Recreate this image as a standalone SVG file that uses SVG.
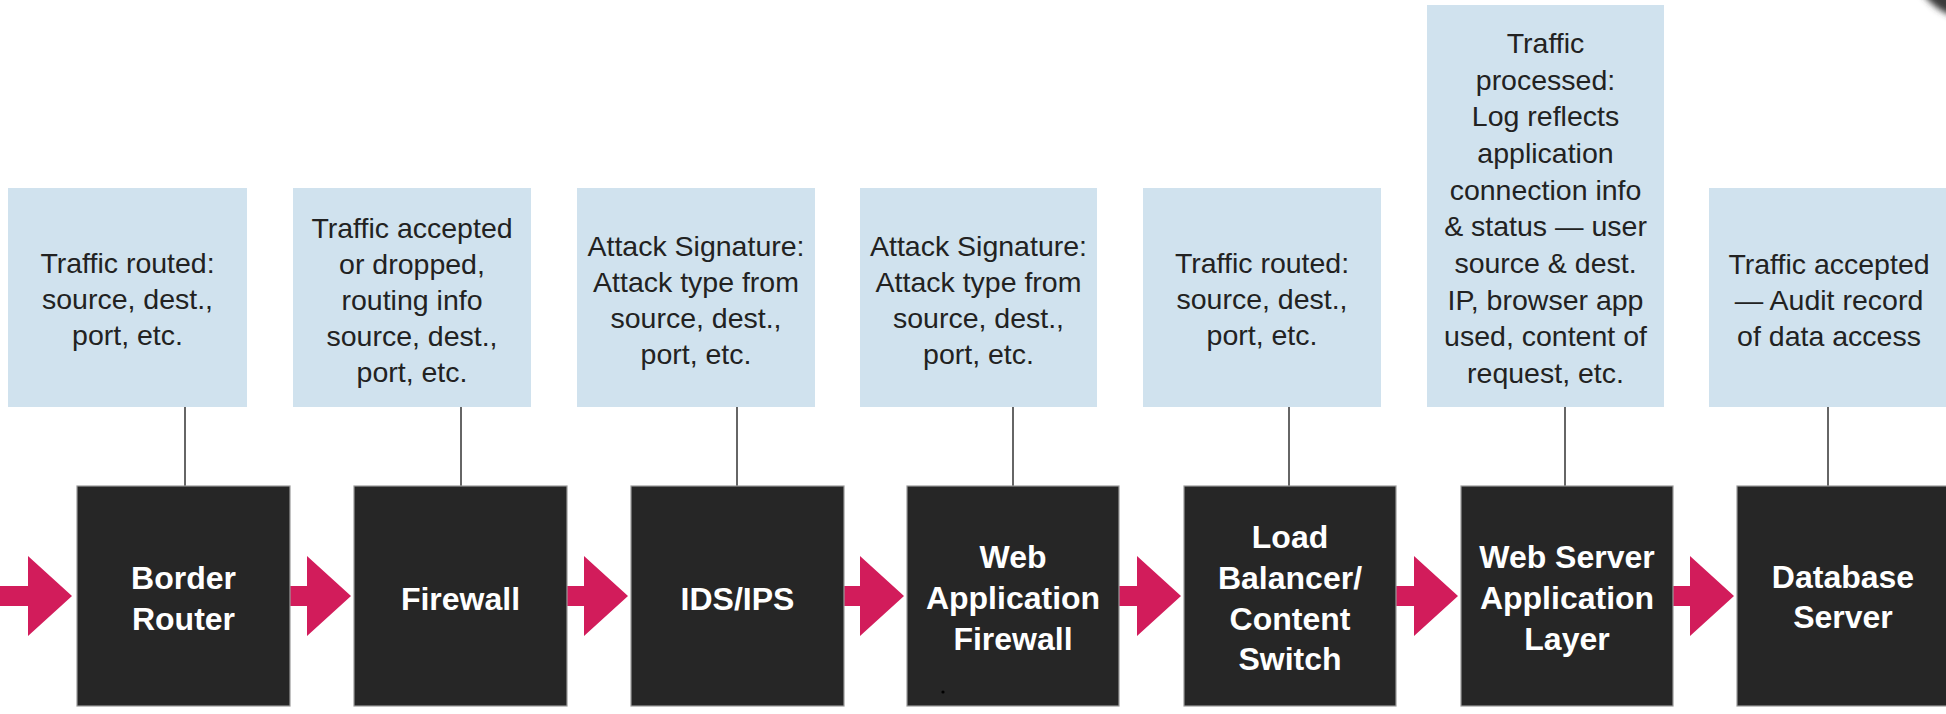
<svg xmlns="http://www.w3.org/2000/svg" width="1946" height="714" viewBox="0 0 1946 714">
<defs>
<style>
.note{fill:#d0e2ee;}
.nt{font-family:"Liberation Sans",Arial,Helvetica,sans-serif;font-size:28.5px;fill:#222;text-anchor:middle;}
.dev{fill:#262626;stroke:#9a9a9a;stroke-width:1.2;}
.dt{font-family:"Liberation Sans",Arial,Helvetica,sans-serif;font-size:32px;font-weight:bold;fill:#fff;text-anchor:middle;}
.link{stroke:#666;stroke-width:2;fill:none;}
.arrow{fill:#d21c5b;}
</style>
<filter id="blur" x="-50%" y="-50%" width="200%" height="200%"><feGaussianBlur stdDeviation="3"/></filter>
</defs>
<rect width="1946" height="714" fill="#fff"/>
<circle cx="1975" cy="-45" r="65" fill="#3a3a3a" filter="url(#blur)"/>

<g id="connectors">
<line class="link" x1="185" y1="407" x2="185" y2="486"/>
<line class="link" x1="461" y1="407" x2="461" y2="486"/>
<line class="link" x1="737" y1="407" x2="737" y2="486"/>
<line class="link" x1="1013" y1="407" x2="1013" y2="486"/>
<line class="link" x1="1289" y1="407" x2="1289" y2="486"/>
<line class="link" x1="1565" y1="407" x2="1565" y2="486"/>
<line class="link" x1="1828" y1="407" x2="1828" y2="486"/>
<path class="arrow" d="M0,586 H28 V556 L72,596 L28,636 V606 H0 Z"/>
<path class="arrow" d="M289,586 H307 V556 L351,596 L307,636 V606 H289 Z"/>
<path class="arrow" d="M566,586 H584 V556 L628,596 L584,636 V606 H566 Z"/>
<path class="arrow" d="M843,586 H860 V556 L904,596 L860,636 V606 H843 Z"/>
<path class="arrow" d="M1119,586 H1137 V556 L1181,596 L1137,636 V606 H1119 Z"/>
<path class="arrow" d="M1396,586 H1414 V556 L1458,596 L1414,636 V606 H1396 Z"/>
<path class="arrow" d="M1673,586 H1690 V556 L1734,596 L1690,636 V606 H1673 Z"/>
</g>

<g id="note1">
<rect class="note" x="8" y="188" width="239" height="219"/>
<text class="nt" x="127.5"><tspan x="127.5" y="273">Traffic routed:</tspan><tspan x="127.5" y="309">source, dest.,</tspan><tspan x="127.5" y="345">port, etc.</tspan></text>
</g>
<g id="note2">
<rect class="note" x="293" y="188" width="238" height="219"/>
<text class="nt"><tspan x="412" y="238">Traffic accepted</tspan><tspan x="412" y="274">or dropped,</tspan><tspan x="412" y="310">routing info</tspan><tspan x="412" y="346">source, dest.,</tspan><tspan x="412" y="382">port, etc.</tspan></text>
</g>
<g id="note3">
<rect class="note" x="577" y="188" width="238" height="219"/>
<text class="nt"><tspan x="696" y="256">Attack Signature:</tspan><tspan x="696" y="292">Attack type from</tspan><tspan x="696" y="328">source, dest.,</tspan><tspan x="696" y="364">port, etc.</tspan></text>
</g>
<g id="note4">
<rect class="note" x="860" y="188" width="237" height="219"/>
<text class="nt"><tspan x="978.5" y="256">Attack Signature:</tspan><tspan x="978.5" y="292">Attack type from</tspan><tspan x="978.5" y="328">source, dest.,</tspan><tspan x="978.5" y="364">port, etc.</tspan></text>
</g>
<g id="note5">
<rect class="note" x="1143" y="188" width="238" height="219"/>
<text class="nt"><tspan x="1262" y="273">Traffic routed:</tspan><tspan x="1262" y="309">source, dest.,</tspan><tspan x="1262" y="345">port, etc.</tspan></text>
</g>
<g id="note6">
<rect class="note" x="1427" y="5" width="237" height="402"/>
<text class="nt"><tspan x="1545.5" y="53">Traffic</tspan><tspan x="1545.5" y="89.7">processed:</tspan><tspan x="1545.5" y="126.3">Log reflects</tspan><tspan x="1545.5" y="163">application</tspan><tspan x="1545.5" y="199.7">connection info</tspan><tspan x="1545.5" y="236.3">&amp; status — user</tspan><tspan x="1545.5" y="273">source &amp; dest.</tspan><tspan x="1545.5" y="309.7">IP, browser app</tspan><tspan x="1545.5" y="346.3">used, content of</tspan><tspan x="1545.5" y="383">request, etc.</tspan></text>
</g>
<g id="note7">
<rect class="note" x="1709" y="188" width="240" height="219"/>
<text class="nt"><tspan x="1829" y="274">Traffic accepted</tspan><tspan x="1829" y="310">— Audit record</tspan><tspan x="1829" y="346">of data access</tspan></text>
</g>

<g id="border-router">
<rect class="dev" x="77" y="486" width="213" height="220"/>
<text class="dt"><tspan x="183.5" y="589">Border</tspan><tspan x="183.5" y="630">Router</tspan></text>
</g>
<g id="firewall">
<rect class="dev" x="354" y="486" width="213" height="220"/>
<text class="dt" x="460.5" y="610">Firewall</text>
</g>
<g id="ids-ips">
<rect class="dev" x="631" y="486" width="213" height="220"/>
<text class="dt" x="737.5" y="610">IDS/IPS</text>
</g>
<g id="waf">
<rect class="dev" x="907" y="486" width="212" height="220"/>
<text class="dt"><tspan x="1013" y="568">Web</tspan><tspan x="1013" y="609">Application</tspan><tspan x="1013" y="650">Firewall</tspan></text>
<circle cx="943" cy="692" r="1.6" fill="#000"/>
</g>
<g id="load-balancer">
<rect class="dev" x="1184" y="486" width="212" height="220"/>
<text class="dt"><tspan x="1290" y="548">Load</tspan><tspan x="1290" y="589">Balancer/</tspan><tspan x="1290" y="630">Content</tspan><tspan x="1290" y="670">Switch</tspan></text>
</g>
<g id="web-server">
<rect class="dev" x="1461" y="486" width="212" height="220"/>
<text class="dt"><tspan x="1567" y="568">Web Server</tspan><tspan x="1567" y="609">Application</tspan><tspan x="1567" y="650">Layer</tspan></text>
</g>
<g id="database-server">
<rect class="dev" x="1737" y="486" width="215" height="220"/>
<text class="dt"><tspan x="1843" y="588">Database</tspan><tspan x="1843" y="628">Server</tspan></text>
</g>
</svg>
